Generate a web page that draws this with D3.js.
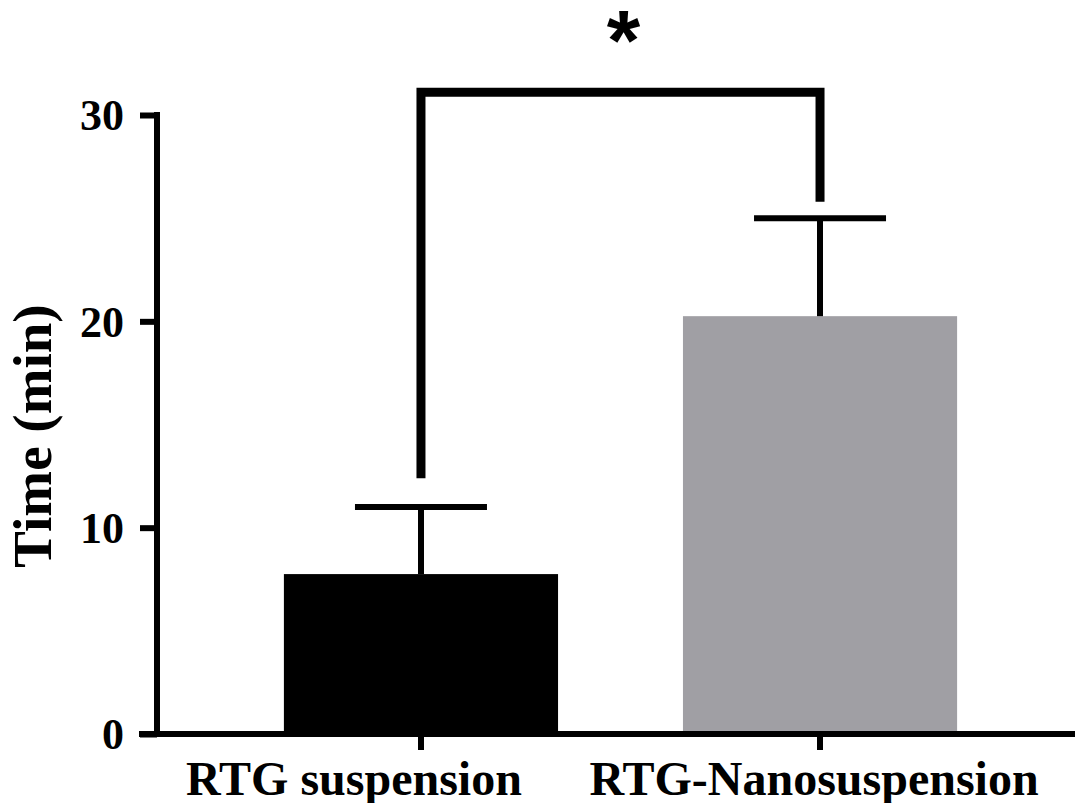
<!DOCTYPE html>
<html>
<head>
<meta charset="utf-8">
<script src="https://cdn.jsdelivr.net/npm/d3@7"></script>
<style>
  html, body { margin: 0; padding: 0; background: #fff; }
  svg { display: block; }
  text { font-family: "Liberation Serif", "Times New Roman", serif; font-weight: bold; fill: #000; }
</style>
</head>
<body>
<svg id="chart" width="1075" height="803"></svg>
<script>
// Group labels, means and upper error limits (min)
const categories = ["RTG suspension", "RTG-Nanosuspension"];
const meanValues = [7.75, 20.25];
const upperError = [11.0, 25.0];
const barColors = ["#000000", "#a09fa4"];
const yTicks = [0, 10, 20, 30];
const yLabel = "Time (min)";
const significance = "*";
const bracketLevel = 31.1;        // bracket top, in data units
const bracketFeet = [12.4, 25.8]; // lower ends of the bracket legs

const svg = d3.select("#chart");

const y = d3.scaleLinear().domain([0, 30]).range([734, 115]);
const x = d3.scaleBand()
  .domain(categories)
  .range([157, 1084])
  .paddingInner(0.313)
  .paddingOuter(0.318);

const axisWidth = 6;

// Bars
svg.append("g").selectAll("rect")
  .data(categories)
  .join("rect")
  .attr("x", d => x(d))
  .attr("width", x.bandwidth())
  .attr("y", (d, i) => y(meanValues[i]))
  .attr("height", (d, i) => y(0) - y(meanValues[i]))
  .attr("fill", (d, i) => barColors[i]);

// Error bars (upper only)
const capHalf = 66;
const eb = svg.append("g").attr("stroke", "#000").attr("stroke-width", 6);
categories.forEach((c, i) => {
  const cx = x(c) + x.bandwidth() / 2;
  eb.append("line")
    .attr("x1", cx).attr("x2", cx)
    .attr("y1", y(meanValues[i])).attr("y2", y(upperError[i]));
  eb.append("line")
    .attr("x1", cx - capHalf).attr("x2", cx + capHalf)
    .attr("y1", y(upperError[i])).attr("y2", y(upperError[i]));
});

// Y axis
const yAxis = svg.append("g")
  .attr("transform", "translate(157,0)")
  .call(d3.axisLeft(y).tickValues(yTicks).tickSize(17).tickSizeOuter(0).tickPadding(16));
yAxis.select(".domain").attr("stroke", "#000").attr("stroke-width", axisWidth)
  .attr("d", `M0,${y(30) - 3}V${y(0)}`);
yAxis.selectAll(".tick line").attr("stroke", "#000").attr("stroke-width", axisWidth);
yAxis.selectAll(".tick text")
  .style("font-size", "44px")
  .attr("dy", "0.34em");

// X axis
const xAxis = svg.append("g")
  .attr("transform", `translate(0,${y(0)})`)
  .call(d3.axisBottom(x).tickSize(16).tickSizeOuter(0).tickPadding(12));
xAxis.select(".domain").attr("stroke", "#000").attr("stroke-width", axisWidth)
  .attr("d", "M139,0H1075");
xAxis.selectAll(".tick line").attr("stroke", "#000").attr("stroke-width", axisWidth);
// category labels sit slightly left of their ticks
const labelShift = [-67, -6];
xAxis.selectAll(".tick text")
  .style("font-size", "48px")
  .attr("dx", (d, i) => labelShift[i])
  .attr("dy", "0.69em");

// Y axis title
svg.append("text")
  .attr("transform", "translate(51,436) rotate(-90)")
  .attr("text-anchor", "middle")
  .style("font-size", "55px")
  .text(yLabel);

// Significance bracket
const xl = x(categories[0]) + x.bandwidth() / 2;
const xr = x(categories[1]) + x.bandwidth() / 2;
svg.append("path")
  .attr("fill", "none")
  .attr("stroke", "#000")
  .attr("stroke-width", 9)
  .attr("stroke-linejoin", "miter")
  .attr("d", `M${xl},${y(bracketFeet[0])}V${y(bracketLevel)}H${xr}V${y(bracketFeet[1])}`);

svg.append("text")
  .attr("x", (xl + xr) / 2 + 3)
  .attr("y", 70)
  .attr("text-anchor", "middle")
  .style("font-family", "'Liberation Sans', Arial, sans-serif")
  .style("font-size", "86px")
  .text(significance);
</script>
</body>
</html>
